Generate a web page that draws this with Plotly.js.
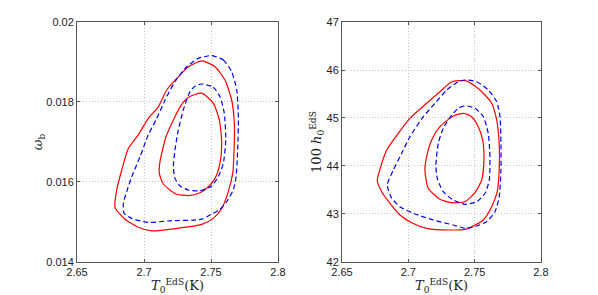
<!DOCTYPE html>
<html>
<head>
<meta charset="utf-8">
<script src="https://cdn.plot.ly/plotly-3.0.1.min.js"></script>
<style>html,body{margin:0;padding:0;background:#fff;}#chart{width:598px;height:295px;}</style>
</head>
<body>
<div id="chart"></div>
<script>
// ---- Data: left panel (omega_b vs T0) ----
const leftRedOuterX = [2.7431,2.7530,2.7604,2.7654,2.7674,2.7672,2.7662,2.7629,2.7580,2.7517,2.7431,2.7244,2.7057,2.6957,2.6858,2.6784,2.6796,2.6834,2.6883,2.6957,2.7032,2.7107,2.7169,2.7256,2.7331,2.7431];
const leftRedOuterY = [0.01903,0.01888,0.01855,0.01805,0.01747,0.01680,0.01622,0.01576,0.01534,0.01509,0.01494,0.01484,0.01478,0.01487,0.01507,0.01536,0.01580,0.01630,0.01684,0.01718,0.01759,0.01788,0.01830,0.01863,0.01888,0.01903];
const leftRedInnerX = [2.7431,2.7517,2.7562,2.7580,2.7567,2.7530,2.7480,2.7418,2.7331,2.7239,2.7144,2.7114,2.7119,2.7164,2.7219,2.7269,2.7331,2.7431];
const leftRedInnerY = [0.01822,0.01797,0.01755,0.01697,0.01647,0.01609,0.01588,0.01573,0.01566,0.01570,0.01595,0.01622,0.01651,0.01713,0.01755,0.01788,0.01812,0.01822];
const leftBlueOuterX = [2.7505,2.7592,2.7654,2.7692,2.7704,2.7699,2.7687,2.7666,2.7617,2.7562,2.7505,2.7431,2.7194,2.7032,2.6908,2.6851,2.6846,2.6871,2.6908,2.6970,2.7032,2.7095,2.7157,2.7231,2.7319,2.7405,2.7505];
const leftBlueOuterY = [0.01916,0.01905,0.01876,0.01830,0.01763,0.01680,0.01613,0.01580,0.01551,0.01530,0.01520,0.01507,0.01503,0.01499,0.01509,0.01522,0.01547,0.01576,0.01613,0.01663,0.01718,0.01759,0.01805,0.01851,0.01888,0.01909,0.01916];
const leftBlueInnerX = [2.7431,2.7517,2.7567,2.7599,2.7610,2.7592,2.7554,2.7505,2.7418,2.7331,2.7269,2.7231,2.7219,2.7231,2.7256,2.7293,2.7343,2.7381,2.7431];
const leftBlueInnerY = [0.01845,0.01837,0.01813,0.01772,0.01705,0.01647,0.01613,0.01590,0.01578,0.01580,0.01590,0.01609,0.01638,0.01680,0.01730,0.01780,0.01826,0.01840,0.01845];

// ---- Data: right panel (100 h0 vs T0) ----
const rightRedOuterX = [2.7427,2.7327,2.7238,2.7138,2.7012,2.6924,2.6837,2.6792,2.6766,2.6799,2.6862,2.6937,2.7025,2.7138,2.7314,2.7427,2.7489,2.7565,2.7628,2.7670,2.7685,2.7685,2.7666,2.7628,2.7565,2.7502,2.7427];
const rightRedOuterY = [45.777,45.756,45.548,45.306,44.994,44.681,44.333,43.985,43.694,43.465,43.223,42.979,42.819,42.702,42.667,42.681,42.750,42.875,43.152,43.465,43.917,44.473,44.958,45.306,45.515,45.667,45.777];
const rightRedInnerX = [2.7419,2.7339,2.7238,2.7176,2.7138,2.7125,2.7150,2.7238,2.7327,2.7427,2.7502,2.7553,2.7570,2.7560,2.7527,2.7477,2.7419];
const rightRedInnerY = [45.098,45.042,44.819,44.542,44.194,43.917,43.535,43.306,43.235,43.256,43.444,43.708,44.125,44.542,44.819,45.027,45.098];
const rightBlueOuterX = [2.7427,2.7515,2.7602,2.7666,2.7691,2.7698,2.7698,2.7685,2.7653,2.7590,2.7515,2.7427,2.7339,2.7188,2.7037,2.6937,2.6875,2.6841,2.6887,2.6950,2.7012,2.7113,2.7201,2.7289,2.7364,2.7427];
const rightBlueOuterY = [45.792,45.756,45.583,45.340,45.027,44.473,43.917,43.360,43.048,42.840,42.750,42.702,42.771,42.875,43.015,43.152,43.327,43.604,43.917,44.265,44.610,45.027,45.306,45.583,45.735,45.792];
const rightBlueInnerX = [2.7427,2.7502,2.7565,2.7602,2.7615,2.7610,2.7578,2.7515,2.7427,2.7339,2.7263,2.7218,2.7208,2.7226,2.7263,2.7327,2.7376,2.7427];
const rightBlueInnerY = [45.256,45.202,45.027,44.681,44.194,43.708,43.431,43.256,43.202,43.292,43.465,43.744,44.021,44.473,44.785,45.063,45.202,45.256];

// ---- Ticks ----
const xTicks = [2.65, 2.7, 2.75, 2.8];
const xTickText = ['2.65', '2.7', '2.75', '2.8'];
const yLeftTicks = [0.014, 0.016, 0.018, 0.02];
const yLeftTickText = ['0.014', '0.016', '0.018', '0.02'];
const yRightTicks = [42, 43, 44, 45, 46, 47];
const yRightTickText = ['42', '43', '44', '45', '46', '47'];

const RED = '#ff0000', BLUE = '#0000ff';
function tr(x, y, color, dashed, xa, ya) {
  return {x: x, y: y, xaxis: xa, yaxis: ya, mode: 'lines', type: 'scatter', hoverinfo: 'skip',
    line: {color: color, width: 1.2, dash: dashed ? '5px,3px' : 'solid', shape: 'spline', smoothing: 0.6}};
}
const data = [
  tr(leftRedOuterX, leftRedOuterY, RED, false, 'x', 'y'),
  tr(leftRedInnerX, leftRedInnerY, RED, false, 'x', 'y'),
  tr(leftBlueOuterX, leftBlueOuterY, BLUE, true, 'x', 'y'),
  tr(leftBlueInnerX, leftBlueInnerY, BLUE, true, 'x', 'y'),
  tr(rightRedOuterX, rightRedOuterY, RED, false, 'x2', 'y2'),
  tr(rightRedInnerX, rightRedInnerY, RED, false, 'x2', 'y2'),
  tr(rightBlueOuterX, rightBlueOuterY, BLUE, true, 'x2', 'y2'),
  tr(rightBlueInnerX, rightBlueInnerY, BLUE, true, 'x2', 'y2')
];

const tickFont = {family: 'Liberation Sans, Arial, sans-serif', size: 11, color: '#222'};
const titleFont = {family: 'DejaVu Serif, Liberation Serif, serif', size: 13, color: '#222'};
function axisBase() {
  return {showline: true, linecolor: '#555', linewidth: 1, mirror: 'ticks', ticks: 'inside', ticklen: 3,
    tickcolor: '#555', showgrid: true, gridcolor: '#c4c4c4', griddash: '1px,2px', gridwidth: 1,
    zeroline: false, tickfont: tickFont, fixedrange: true};
}
const xTitle = '<i>T</i><sub>0</sub><sup>EdS</sup>(K)';
const layout = {
  width: 598, height: 295, showlegend: false,
  paper_bgcolor: '#fff', plot_bgcolor: '#fff',
  margin: {l: 0, r: 0, t: 0, b: 0, pad: 0},
  xaxis: Object.assign(axisBase(), {domain: [0.1288, 0.4649], range: [2.65, 2.8], tickvals: xTicks, ticktext: xTickText, anchor: 'y',
    title: {text: xTitle, font: titleFont, standoff: 2}}),
  yaxis: Object.assign(axisBase(), {domain: [0.1119, 0.9254], range: [0.014, 0.02], tickvals: yLeftTicks, ticktext: yLeftTickText, anchor: 'x',
    title: {text: '<i>ω</i><sub>b</sub>', font: titleFont, standoff: 0}}),
  xaxis2: Object.assign(axisBase(), {domain: [0.5719, 0.9047], range: [2.65, 2.8], tickvals: xTicks, ticktext: xTickText, anchor: 'y2',
    title: {text: xTitle, font: titleFont, standoff: 2}}),
  yaxis2: Object.assign(axisBase(), {domain: [0.1119, 0.9254], range: [42, 47], tickvals: yRightTicks, ticktext: yRightTickText, anchor: 'x2',
    title: {text: '100 <i>h</i><sub>0</sub><sup>EdS</sup>', font: titleFont, standoff: 1}})
};
Plotly.newPlot('chart', data, layout, {displayModeBar: false, staticPlot: true});
</script>
</body>
</html>
